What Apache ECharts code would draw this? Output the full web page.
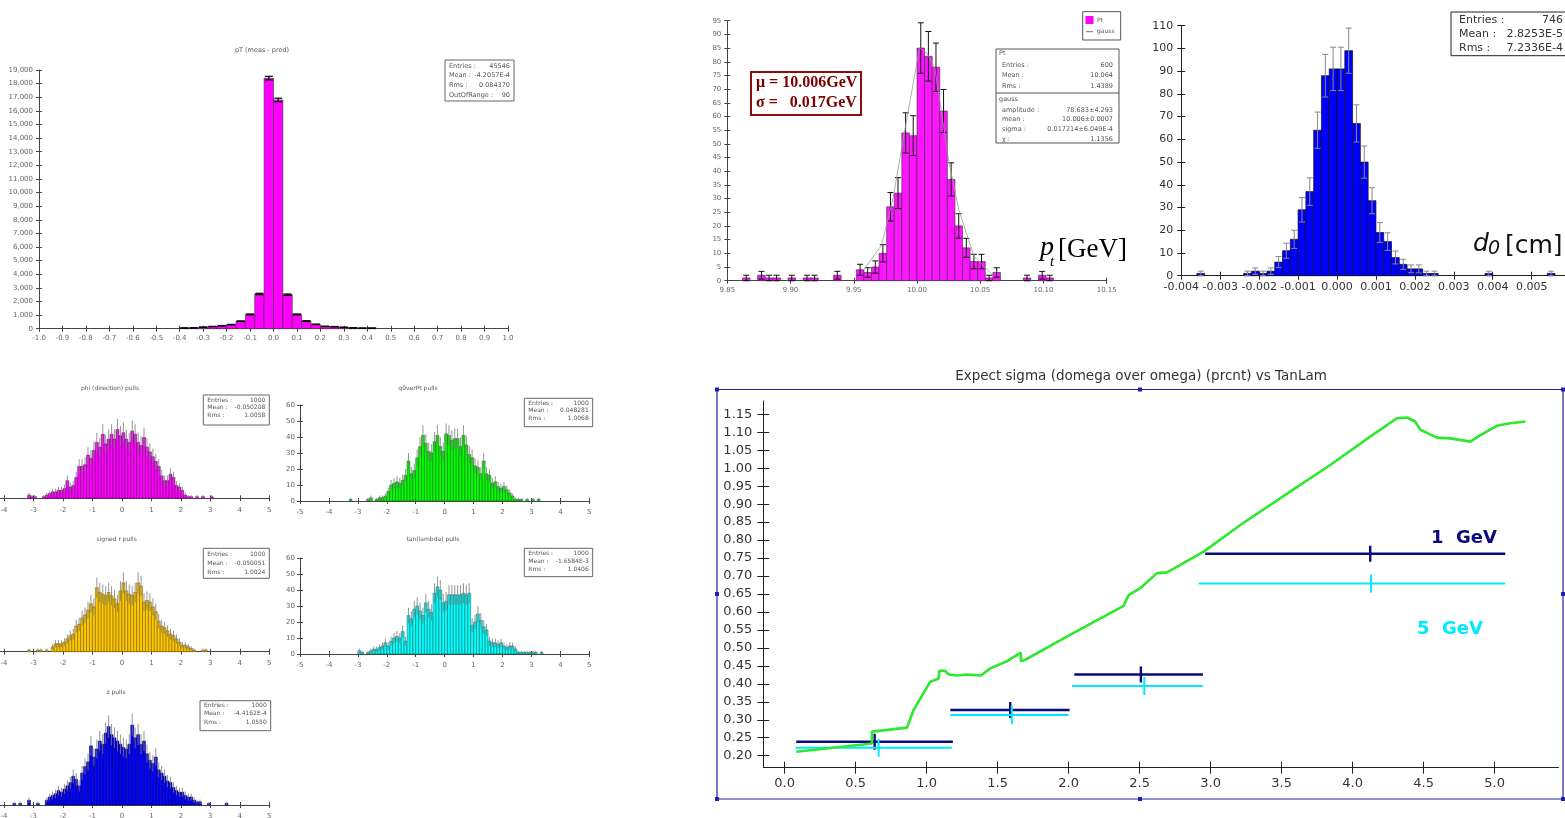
<!DOCTYPE html>
<html>
<head>
<meta charset="utf-8">
<script src="https://cdn.jsdelivr.net/npm/echarts@6/dist/echarts.min.js"></script>
<style>
  html, body { margin: 0; padding: 0; background: #fff; }
  #main { width: 1565px; height: 818px; }
</style>
</head>
<body>
<div id="main"></div>
<script>
// -- pT (meas - pred): 50 bins of 0.04 starting at -1.0 --
let resStart = -1.0;
let resWidth = 0.04;
let resCounts = [0, 0, 0, 0, 0, 0, 0, 0, 0, 0,
                 0, 0, 0, 0, 0, 50, 60, 110, 160, 220,
                 300, 550, 1050, 2550, 18400, 16800, 2500, 1050, 560, 320,
                 170, 150, 100, 60, 40, 40, 0, 0, 0, 0,
                 0, 0, 0, 0, 0, 0, 0, 0, 0, 0];
let resXTicks = [-1.0, -0.9, -0.8, -0.7, -0.6, -0.5, -0.4, -0.3, -0.2, -0.1, 0.0,
                 0.1, 0.2, 0.3, 0.4, 0.5, 0.6, 0.7, 0.8, 0.9, 1.0];
let resYTicks = [0, 1000, 2000, 3000, 4000, 5000, 6000, 7000, 8000, 9000, 10000,
                 11000, 12000, 13000, 14000, 15000, 16000, 17000, 18000, 19000];

// -- Pt at 10 GeV: 50 bins of 0.006 starting at 9.85 --
let ptStart = 9.85;
let ptWidth = 0.006;
let ptCounts = [0, 0, 1, 0, 2, 1, 1, 0, 1, 0,
                1, 1, 0, 0, 2, 0, 0, 4, 3, 5,
                10, 27, 32, 54, 53, 85, 82, 78, 62, 37,
                20, 12, 7, 7, 1, 3, 0, 0, 0, 1,
                0, 2, 1, 0, 0, 0, 0, 0, 0, 0];
let gaussX = [9.958, 9.972, 9.981, 9.990, 10.002, 10.008, 10.014, 10.025, 10.033, 10.045, 10.060];
let gaussY = [4, 13, 30, 54, 85, 83, 78, 44, 26, 9, 2];
let ptXTicks = [9.85, 9.90, 9.95, 10.00, 10.05, 10.10, 10.15];
let ptYTicks = [0, 5, 10, 15, 20, 25, 30, 35, 40, 45, 50, 55, 60, 65, 70, 75, 80, 85, 90, 95];

// -- d0: 50 bins of 0.0002 starting at -0.004 --
let d0Start = -0.004;
let d0Width = 0.0002;
let d0Counts = [0, 0, 1, 0, 0, 0, 0, 0, 1, 2,
                1, 2, 6, 11, 16, 29, 37, 64, 88, 91,
                91, 99, 67, 50, 33, 19, 15, 8, 5, 3,
                3, 1, 1, 0, 0, 0, 0, 0, 0, 1,
                0, 0, 0, 0, 0, 0, 0, 1, 0, 0];
let d0XTicks = [-0.004, -0.003, -0.002, -0.001, 0, 0.001, 0.002, 0.003, 0.004, 0.005];
let d0YTicks = [0, 10, 20, 30, 40, 50, 60, 70, 80, 90, 100, 110];

// -- pulls: 100 bins of 0.1 starting at -5 --
let pullStart = -5;
let pullWidth = 0.1;
let phiPulls = [0, 0, 0, 0, 0, 0, 0, 0, 0, 0,
                0, 0, 0, 0, 0, 0, 0, 0, 2, 1,
                1, 0, 0, 1, 2, 3, 4, 4, 5, 5,
                6, 11, 7, 8, 13, 20, 20, 21, 27, 25,
                30, 35, 32, 40, 34, 37, 40, 37, 43, 39,
                41, 37, 35, 42, 40, 35, 33, 38, 32, 29,
                26, 23, 20, 14, 11, 11, 15, 13, 8, 7,
                5, 2, 1, 1, 0, 1, 0, 1, 0, 0,
                1, 0, 0, 0, 0, 0, 0, 0, 0, 0,
                0, 0, 0, 0, 0, 0, 0, 0, 0, 0];
let q0Pulls = [0, 0, 0, 0, 0, 0, 0, 0, 0, 0,
               0, 0, 0, 0, 0, 0, 0, 1, 0, 0,
               0, 0, 0, 1, 2, 0, 1, 2, 2, 3,
               6, 10, 11, 12, 11, 13, 16, 25, 17, 19,
               27, 34, 41, 36, 31, 30, 37, 41, 34, 31,
               42, 41, 38, 39, 39, 34, 41, 35, 29, 27,
               22, 21, 17, 25, 17, 16, 11, 12, 9, 8,
               9, 7, 5, 3, 1, 1, 1, 0, 1, 0,
               1, 0, 1, 0, 0, 0, 0, 0, 0, 0,
               0, 0, 0, 0, 0, 0, 0, 0, 0, 0];
let rPulls = [0, 0, 0, 0, 0, 0, 0, 0, 0, 0,
              0, 0, 0, 0, 0, 0, 0, 0, 1, 0,
              0, 1, 1, 0, 1, 0, 3, 5, 5, 5,
              6, 8, 10, 11, 16, 17, 21, 23, 26, 30,
              28, 40, 37, 36, 35, 37, 35, 33, 30, 38,
              43, 38, 36, 35, 37, 43, 41, 31, 32, 31,
              28, 25, 19, 16, 15, 13, 11, 10, 8, 6,
              4, 4, 3, 2, 1, 0, 0, 1, 1, 0,
              0, 0, 0, 0, 0, 0, 0, 0, 0, 0,
              0, 0, 0, 0, 0, 0, 0, 0, 0, 0];
let tanPulls = [0, 0, 0, 0, 0, 0, 0, 0, 0, 0,
                0, 0, 0, 0, 0, 0, 0, 0, 0, 0,
                2, 1, 0, 1, 2, 3, 3, 4, 5, 7,
                5, 8, 10, 11, 10, 14, 8, 24, 22, 28,
                30, 27, 24, 32, 28, 26, 38, 42, 40, 32,
                33, 37, 37, 37, 37, 37, 38, 37, 38, 18,
                20, 25, 21, 17, 15, 8, 7, 7, 6, 7,
                5, 4, 5, 5, 3, 1, 1, 1, 1, 1,
                1, 1, 0, 1, 0, 0, 0, 0, 0, 0,
                0, 0, 0, 0, 0, 0, 0, 0, 0, 0];
let zPulls = [0, 0, 0, 0, 0, 0, 0, 0, 0, 0,
              0, 0, 0, 1, 0, 1, 0, 0, 3, 0,
              0, 1, 0, 0, 3, 5, 6, 7, 9, 8,
              10, 12, 14, 18, 16, 12, 20, 24, 27, 37,
              30, 35, 40, 38, 45, 49, 44, 42, 40, 38,
              36, 35, 38, 50, 42, 44, 38, 40, 32, 28,
              26, 30, 22, 20, 18, 15, 14, 11, 9, 8,
              8, 6, 5, 5, 3, 2, 2, 0, 0, 1,
              0, 0, 0, 0, 0, 1, 0, 0, 0, 0,
              0, 0, 0, 0, 0, 0, 0, 0, 0, 0];
let pullXTicks = [-5, -4, -3, -2, -1, 0, 1, 2, 3, 4, 5];
let pullYTicks = [0, 10, 20, 30, 40, 50, 60];

// -- expected sigma vs TanLam --
let sigX = [0.082, 0.615, 0.615, 0.862, 0.908, 1.026, 1.085, 1.089, 1.131, 1.155,
            1.214, 1.284, 1.383, 1.448, 1.566, 1.664, 1.664, 1.695, 2.0, 2.387,
            2.423, 2.505, 2.622, 2.693, 2.951, 3.209, 3.56, 3.842, 4.124, 4.312,
            4.383, 4.44, 4.477, 4.594, 4.688, 4.829, 4.9, 5.016, 5.11, 5.216];
let sigY = [0.211, 0.234, 0.267, 0.278, 0.327, 0.406, 0.415, 0.436, 0.436, 0.426,
            0.423, 0.426, 0.423, 0.443, 0.463, 0.487, 0.463, 0.467, 0.534, 0.617,
            0.647, 0.666, 0.708, 0.710, 0.768, 0.842, 0.935, 1.009, 1.088, 1.139,
            1.141, 1.130, 1.107, 1.085, 1.083, 1.074, 1.092, 1.118, 1.125, 1.130];
let gev1From = [0.082, 1.167, 2.04, 2.962];
let gev1To = [1.185, 2.007, 2.946, 5.075];
let gev1Mid = [0.634, 1.589, 2.509, 4.124];
let gev1Val = [0.239, 0.327, 0.426, 0.762];
let gev5From = [0.077, 1.167, 2.023, 2.915];
let gev5To = [1.178, 2.0, 2.946, 5.075];
let gev5Mid = [0.662, 1.60, 2.533, 4.13];
let gev5Val = [0.222, 0.313, 0.394, 0.679];
let sigXTicks = [0, 0.5, 1.0, 1.5, 2.0, 2.5, 3.0, 3.5, 4.0, 4.5, 5.0];
let sigYTicks = [0.20, 0.25, 0.30, 0.35, 0.40, 0.45, 0.50, 0.55, 0.60, 0.65, 0.70,
                 0.75, 0.80, 0.85, 0.90, 0.95, 1.00, 1.05, 1.10, 1.15];

// ------------------------------------------------------------------
let grids = [];
let xAxes = [];
let yAxes = [];
let series = [];
let graphics = [];

function commas(v) {
  return String(v).replace(/\B(?=(\d{3})+(?!\d))/g, ',');
}

/**
 * one grid, axes drawn twice so ticks cross the axis line
 */
function addPanel(p) {
  let gi = grids.length;
  let xi = xAxes.length;
  let yi = yAxes.length;
  grids.push({
    left: p.box[0], top: p.box[1], width: p.box[2], height: p.box[3],
    containLabel: false, outerBoundsMode: 'none'
  });
  [false, true].forEach(function (inner) {
    xAxes.push({
      type: 'value', gridIndex: gi, position: 'bottom', min: p.x.min, max: p.x.max,
      axisLine: {show: !inner, onZero: false, lineStyle: {color: p.line, width: 1}},
      axisTick: {show: true, inside: inner, length: p.tick, customValues: p.x.ticks,
                 lineStyle: {color: p.line, width: 1}},
      axisLabel: {show: !inner, customValues: p.x.ticks, formatter: p.x.fmt, margin: p.x.margin,
                  fontSize: p.font, color: p.text, fontFamily: 'DejaVu Sans'},
      splitLine: {show: false}
    });
    yAxes.push({
      type: 'value', gridIndex: gi, position: 'left', min: p.y.min, max: p.y.max,
      axisLine: {show: !inner, onZero: false, lineStyle: {color: p.line, width: 1}},
      axisTick: {show: true, inside: inner, length: p.tick, customValues: p.y.ticks,
                 lineStyle: {color: p.line, width: 1}},
      axisLabel: {show: !inner, customValues: p.y.ticks, formatter: p.y.fmt, margin: p.y.margin,
                  fontSize: p.font, color: p.text, fontFamily: 'DejaVu Sans'},
      splitLine: {show: false}
    });
  });
  return {x: xi, y: yi};
}

function histData(start, width, counts) {
  return counts.map(function (n, i) {
    return [start + i * width, start + (i + 1) * width, n];
  });
}

function histRender(st) {
  return function (params, api) {
    let x0 = api.value(0);
    let x1 = api.value(1);
    let n = api.value(2);
    if (!n) {
      return;
    }
    let tl = api.coord([x0, n]);
    let br = api.coord([x1, 0]);
    let kids = [{
      type: 'rect',
      shape: {x: tl[0], y: tl[1], width: br[0] - tl[0], height: br[1] - tl[1]},
      style: {fill: st.fill, stroke: st.edge, lineWidth: st.edgeW}
    }];
    let xm = (x0 + x1) / 2;
    let e = Math.sqrt(n);
    let top = api.coord([xm, n + e]);
    let bot = api.coord([xm, Math.max(n - e, 0)]);
    kids.push({type: 'line', shape: {x1: top[0], y1: top[1], x2: bot[0], y2: bot[1]},
               style: {stroke: st.err, lineWidth: st.errW}});
    if (st.cap) {
      kids.push({type: 'line', shape: {x1: top[0] - st.cap, y1: top[1], x2: top[0] + st.cap, y2: top[1]},
                 style: {stroke: st.err, lineWidth: st.errW}});
      kids.push({type: 'line', shape: {x1: bot[0] - st.cap, y1: bot[1], x2: bot[0] + st.cap, y2: bot[1]},
                 style: {stroke: st.err, lineWidth: st.errW}});
    }
    return {type: 'group', children: kids};
  };
}

function addHist(ax, start, width, counts, st) {
  series.push({
    type: 'custom', xAxisIndex: ax.x, yAxisIndex: ax.y, silent: true,
    data: histData(start, width, counts),
    encode: {x: [0, 1], y: 2},
    renderItem: histRender(st)
  });
}

function txt(x, y, s, font, fill, align, valign) {
  return {
    type: 'text', x: x, y: y, silent: true,
    style: {text: s, font: font, fill: fill, textAlign: align || 'left', textVerticalAlign: valign || 'middle'}
  };
}

function statBox(x, y, w, h, rows, font, color, stroke, pad) {
  graphics.push({type: 'rect', silent: true, shape: {x: x, y: y, width: w, height: h},
                 style: {fill: '#fff', stroke: stroke, lineWidth: 1}});
  rows.forEach(function (r) {
    graphics.push(txt(x + pad, r[2], r[0], font, color, 'left'));
    graphics.push(txt(x + w - pad, r[2], r[1], font, color, 'right'));
  });
}

let tiny = '6.5px "DejaVu Sans"';
let small = {font: 7, line: '#444', text: '#666', tick: 3};

// -- pT (meas - pred) --
let resAx = addPanel(Object.assign({}, small, {
  box: [39, 70, 469, 258.7],
  x: {min: -1, max: 1, ticks: resXTicks, margin: 6, fmt: function (v) { return v.toFixed(1); }},
  y: {min: 0, max: 19000, ticks: resYTicks, margin: 6, fmt: commas}
}));
addHist(resAx, resStart, resWidth, resCounts,
        {fill: '#ff00ff', edge: '#333', edgeW: 0.6, err: '#000', errW: 1.2, cap: 4});
graphics.push(txt(262, 50, 'pT (meas - pred)', tiny, '#555', 'center'));
statBox(445, 60, 69, 41, [['Entries :', '45546', 66], ['Mean :', '-4.2057E-4', 75.7],
                          ['Rms :', '0.084370', 85.3], ['OutOfRange :', '90', 95]],
        tiny, '#555', '#666', 4);

// -- Pt fit --
let ptAx = addPanel(Object.assign({}, small, {
  box: [727.3, 20.7, 379.4, 260],
  x: {min: 9.85, max: 10.15, ticks: ptXTicks, margin: 6, fmt: function (v) { return v.toFixed(2); }},
  y: {min: 0, max: 95, ticks: ptYTicks, margin: 6, fmt: String}
}));
addHist(ptAx, ptStart, ptWidth, ptCounts,
        {fill: '#ff14ff', edge: '#333', edgeW: 0.6, err: '#111', errW: 1, cap: 3});
series.push({
  type: 'line', xAxisIndex: ptAx.x, yAxisIndex: ptAx.y, silent: true, showSymbol: false,
  data: gaussX.map(function (x, i) { return [x, gaussY[i]]; }),
  lineStyle: {color: '#9a9a9a', width: 0.8}
});
graphics.push({type: 'rect', silent: true, shape: {x: 1082.7, y: 11.7, width: 38, height: 28.3},
               style: {fill: '#fff', stroke: '#555', lineWidth: 1}});
graphics.push({type: 'rect', silent: true, shape: {x: 1085.5, y: 16, width: 8, height: 8},
               style: {fill: '#ff00ff'}});
graphics.push(txt(1097, 20, 'Pt', '6px "DejaVu Sans"', '#555'));
graphics.push({type: 'line', silent: true, shape: {x1: 1086, y1: 31.7, x2: 1093, y2: 31.7},
               style: {stroke: '#777', lineWidth: 1}});
graphics.push(txt(1097, 31.7, 'gauss', '6px "DejaVu Sans"', '#555'));
statBox(996, 49, 123, 94, [['Entries :', '600', 65], ['Mean :', '10.064', 75], ['Rms :', '1.4389', 86],
                           ['amplitude :', '78.683±4.293', 110], ['mean :', '10.006±0.0007', 119],
                           ['sigma :', '0.017214±6.049E-4', 129], ['χ :', '1.1356', 139]],
        tiny, '#555', '#555', 6);
graphics.push(txt(999, 53.5, 'Pt', tiny, '#555'));
graphics.push({type: 'line', silent: true, shape: {x1: 996, y1: 93, x2: 1119, y2: 93},
               style: {stroke: '#555', lineWidth: 1}});
graphics.push(txt(999, 99, 'gauss', tiny, '#555'));
graphics.push({type: 'rect', silent: true, shape: {x: 751, y: 72, width: 110, height: 43},
               style: {fill: '#fff', stroke: '#8b0d0d', lineWidth: 2}});
graphics.push(txt(756, 83, 'μ = 10.006GeV', 'bold 16px "Liberation Serif"', '#7a0000'));
graphics.push(txt(756, 103, 'σ =   0.017GeV', 'bold 16px "Liberation Serif"', '#7a0000'));
graphics.push(txt(1040, 262, 'p', 'italic 28px "Liberation Serif"', '#000', 'left', 'bottom'));
graphics.push(txt(1050, 270, 't', 'italic 15px "Liberation Serif"', '#000', 'left', 'bottom'));
graphics.push(txt(1058, 263, '[GeV]', '27px "Liberation Serif"', '#000', 'left', 'bottom'));

// -- d0 --
let d0Ax = addPanel({
  box: [1181.3, 25.7, 385.4, 250], font: 11, line: '#222', text: '#333', tick: 4,
  x: {min: -0.004, max: 0.0059, ticks: d0XTicks, margin: 6, fmt: function (v) { return v.toFixed(3); }},
  y: {min: 0, max: 110, ticks: d0YTicks, margin: 8, fmt: String}
});
addHist(d0Ax, d0Start, d0Width, d0Counts,
        {fill: '#0000ff', edge: '#111', edgeW: 0.7, err: '#888', errW: 1, cap: 3});
statBox(1451, 12, 120, 43.7, [['Entries :', '746', 20], ['Mean :', '2.8253E-5', 34.5], ['Rms :', '7.2336E-4', 48]],
        '11px "DejaVu Sans"', '#333', '#222', 8);
graphics.push(txt(1473, 257, 'd', 'italic 25px "DejaVu Sans"', '#111', 'left', 'bottom'));
graphics.push(txt(1488, 259, '0', 'italic 19px "DejaVu Sans"', '#111', 'left', 'bottom'));
graphics.push(txt(1505, 259, '[cm]', '25px "DejaVu Sans"', '#111', 'left', 'bottom'));

// -- expected sigma vs TanLam --
let sigAx = addPanel({
  box: [763.3, 401, 795.2, 366.7], font: 13, line: '#222', text: '#333', tick: 6,
  x: {min: -0.15, max: 5.45, ticks: sigXTicks, margin: 9, fmt: function (v) { return v.toFixed(1); }},
  y: {min: 0.1666, max: 1.187, ticks: sigYTicks, margin: 11, fmt: function (v) { return v.toFixed(2); }}
});
series.push({
  type: 'line', xAxisIndex: sigAx.x, yAxisIndex: sigAx.y, silent: true, showSymbol: false,
  data: sigX.map(function (x, i) { return [x, sigY[i]]; }),
  lineStyle: {color: '#2de82d', width: 2.6}
});

function markerSeries(from, to, mid, val, color, w, half) {
  series.push({
    type: 'custom', xAxisIndex: sigAx.x, yAxisIndex: sigAx.y, silent: true,
    data: from.map(function (f, i) { return [f, to[i], mid[i], val[i]]; }),
    encode: {x: [0, 1, 2], y: 3},
    renderItem: function (params, api) {
      let a = api.coord([api.value(0), api.value(3)]);
      let b = api.coord([api.value(1), api.value(3)]);
      let m = api.coord([api.value(2), api.value(3)]);
      return {
        type: 'group', children: [
          {type: 'line', shape: {x1: a[0], y1: a[1], x2: b[0], y2: b[1]}, style: {stroke: color, lineWidth: w}},
          {type: 'line', shape: {x1: m[0], y1: m[1] - half, x2: m[0], y2: m[1] + half},
           style: {stroke: color, lineWidth: w}}
        ]
      };
    }
  });
}
markerSeries(gev1From, gev1To, gev1Mid, gev1Val, '#0a0a80', 2.4, 8);
markerSeries(gev5From, gev5To, gev5Mid, gev5Val, '#00eaff', 2, 9);
graphics.push(txt(1141, 376, 'Expect sigma (domega over omega) (prcnt) vs TanLam', '13.5px "DejaVu Sans"', '#333', 'center'));
graphics.push(txt(1431, 538, '1  GeV', 'bold 18px "DejaVu Sans"', '#0a0a80'));
graphics.push(txt(1417, 629, '5  GeV', 'bold 18px "DejaVu Sans"', '#00eaff'));
graphics.push({type: 'rect', silent: true, shape: {x: 717, y: 389.5, width: 846, height: 409.5},
               style: {fill: 'none', stroke: '#2020a8', lineWidth: 1.2}});
[[717, 389.5], [1140, 389.5], [1563, 389.5], [717, 594], [1563, 594],
 [717, 799], [1140, 799], [1563, 799]].forEach(function (h) {
  graphics.push({type: 'rect', silent: true, shape: {x: h[0] - 2, y: h[1] - 2, width: 4, height: 4},
                 style: {fill: '#2020a8'}});
});

// -- pulls --
let pullPanels = [
  {box: [-25.5, 402.3, 294.8, 96], counts: phiPulls, fill: '#ff00ff', edge: '#5a005a',
   title: 'phi (direction) pulls', tx: 110, ty: 388.3,
   stat: [203.3, 395, 66, 30], rows: [['Entries :', '1000', 400], ['Mean :', '-0.050208', 407.5], ['Rms :', '1.0058', 415]]},
  {box: [300, 405, 289.3, 96], counts: q0Pulls, fill: '#00ff00', edge: '#1a5a1a',
   title: 'q0verPt pulls', tx: 418, ty: 388.3,
   stat: [524.3, 398.3, 68.4, 28.4], rows: [['Entries :', '1000', 403], ['Mean :', '0.048281', 410.5], ['Rms :', '1.0068', 418]]},
  {box: [-25.5, 555.7, 294.8, 96], counts: rPulls, fill: '#ffc800', edge: '#6b5200',
   title: 'signed r pulls', tx: 116.7, ty: 539.3,
   stat: [203.3, 548.3, 66, 30], rows: [['Entries :', '1000', 554.3], ['Mean :', '-0.050051', 563], ['Rms :', '1.0024', 572]]},
  {box: [300, 558, 289.3, 96], counts: tanPulls, fill: '#00ffff', edge: '#1a5a5a',
   title: 'tan(lambda) pulls', tx: 433, ty: 539.3,
   stat: [524.3, 548.3, 68.4, 28.4], rows: [['Entries :', '1000', 553.5], ['Mean :', '-1.6584E-3', 561.7], ['Rms :', '1.0406', 569.5]]},
  {box: [-25.5, 709, 294.8, 96], counts: zPulls, fill: '#0000ff', edge: '#000050',
   title: 'z pulls', tx: 116, ty: 692,
   stat: [200, 700.7, 70.7, 30], rows: [['Entries :', '1000', 705.7], ['Mean :', '-4.4162E-4', 713.5], ['Rms :', '1.0550', 722.7]]}
];
pullPanels.forEach(function (pp) {
  let ax = addPanel(Object.assign({}, small, {
    box: pp.box,
    x: {min: -5, max: 5, ticks: pullXTicks, margin: 8, fmt: String},
    y: {min: 0, max: 60, ticks: pullYTicks, margin: 5, fmt: String}
  }));
  addHist(ax, pullStart, pullWidth, pp.counts,
          {fill: pp.fill, edge: pp.edge, edgeW: 0.5, err: '#7a7a7a', errW: 0.8, cap: 0});
  graphics.push(txt(pp.tx, pp.ty, pp.title, '6px "DejaVu Sans"', '#555', 'center'));
  statBox(pp.stat[0], pp.stat[1], pp.stat[2], pp.stat[3], pp.rows, '6px "DejaVu Sans"', '#555', '#666', 4);
});

let option = {
  animation: false,
  backgroundColor: '#fff',
  grid: grids,
  xAxis: xAxes,
  yAxis: yAxes,
  series: series,
  graphic: {elements: graphics}
};

let myChart = echarts.init(document.getElementById('main'));
myChart.setOption(option);
</script>
</body>
</html>
